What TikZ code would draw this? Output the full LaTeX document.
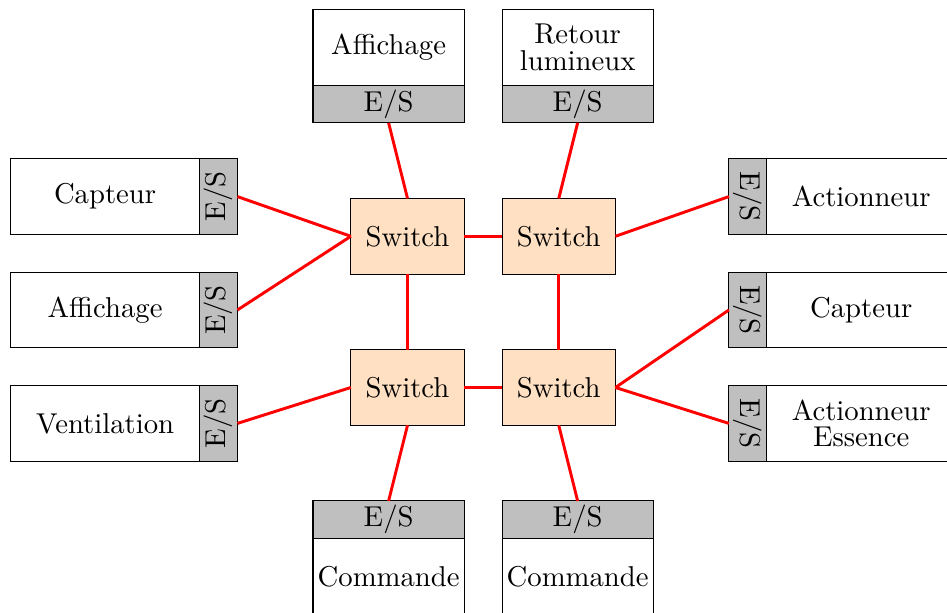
\documentclass[tikz,border=0pt]{standalone}
\usepackage{fontspec}
\setmainfont{lmroman10-regular.otf}
\usepackage{graphicx}
\usetikzlibrary{positioning}
\definecolor{myorange}{RGB}{255,224,194}
\definecolor{mygray}{RGB}{191,191,191}
\definecolor{myred}{RGB}{255,0,0}
\newcommand{\esup}{\rotatebox{90}{E/S}}
\newcommand{\esdown}{\rotatebox{-90}{E/S}}
\tikzset{
    common/.style={draw, line width=0.8pt, rectangle, inner sep=1pt, outer sep=0pt, align=center},
    sw/.style={common, fill=myorange, minimum width=3cm, minimum height=2cm},
    dev/.style={common, fill=white, minimum width=5cm, minimum height=2cm},
    tdev/.style={common, fill=white, minimum width=4cm, minimum height=2cm},
    port/.style={common, fill=mygray, minimum width=1cm, minimum height=2cm},
    tport/.style={common, fill=mygray, minimum width=4cm, minimum height=1cm},
    link/.style={myred, line width=2.2pt}
}
\begin{document}
\begin{tikzpicture}[font=\fontsize{21.6}{20}\selectfont]
    \path[use as bounding box, clip] (-0.03,0) rectangle (25.02,-16.19);

    % switches
    \node[sw] (swA) at (10.75,-6.25) {Switch};
    \node[sw, right=1cm of swA] (swB) {Switch};
    \node[sw, below=2cm of swA] (swC) {Switch};
    \node[sw, right=1cm of swC] (swD) {Switch};

    % top
    \node[tport] (affH-es) at (10.25,-2.75) {E/S};
    \node[tdev, above=0pt of affH-es] (affH) {Affichage};
    \node[tport] (ret-es) at (15.25,-2.75) {E/S};
    \node[tdev, above=0pt of ret-es] (ret) {Retour\\lumineux};

    % bottom
    \node[tport] (cmdA-es) at (10.25,-13.75) {E/S};
    \node[tdev, below=0pt of cmdA-es] (cmdA) {Commande};
    \node[tport] (cmdB-es) at (15.25,-13.75) {E/S};
    \node[tdev, below=0pt of cmdB-es] (cmdB) {Commande};

    % left
    \node[port] (capG-es) at (5.75,-5.2) {\esup};
    \node[dev, left=0pt of capG-es] (capG) {Capteur};
    \node[port] (affG-es) at (5.75,-8.2) {\esup};
    \node[dev, left=0pt of affG-es] (affG) {Affichage};
    \node[port] (vent-es) at (5.75,-11.2) {\esup};
    \node[dev, left=0pt of vent-es] (vent) {Ventilation};

    % right
    \node[port] (actD-es) at (19.75,-5.2) {\esdown};
    \node[dev, right=0pt of actD-es] (actD) {Actionneur};
    \node[port] (capD-es) at (19.75,-8.2) {\esdown};
    \node[dev, right=0pt of capD-es] (capD) {Capteur};
    \node[port] (ess-es) at (19.75,-11.2) {\esdown};
    \node[dev, right=0pt of ess-es] (ess) {Actionneur\\Essence};

    % links
    \draw[link] (swA) -- (swB);
    \draw[link] (swA) -- (swC);
    \draw[link] (swB) -- (swD);
    \draw[link] (swC) -- (swD);

    \draw[link] (affH-es.south) -- (swA.north);
    \draw[link] (ret-es.south) -- (swB.north);
    \draw[link] (cmdA-es.north) -- (swC.south);
    \draw[link] (cmdB-es.north) -- (swD.south);

    \draw[link] (capG-es.east) -- (swA.west);
    \draw[link] (affG-es.east) -- (swA.west);
    \draw[link] (vent-es.east) -- (swC.west);

    \draw[link] (actD-es.west) -- (swB.east);
    \draw[link] (capD-es.west) -- (swD.east);
    \draw[link] (ess-es.west) -- (swD.east);
\end{tikzpicture}
\end{document}
